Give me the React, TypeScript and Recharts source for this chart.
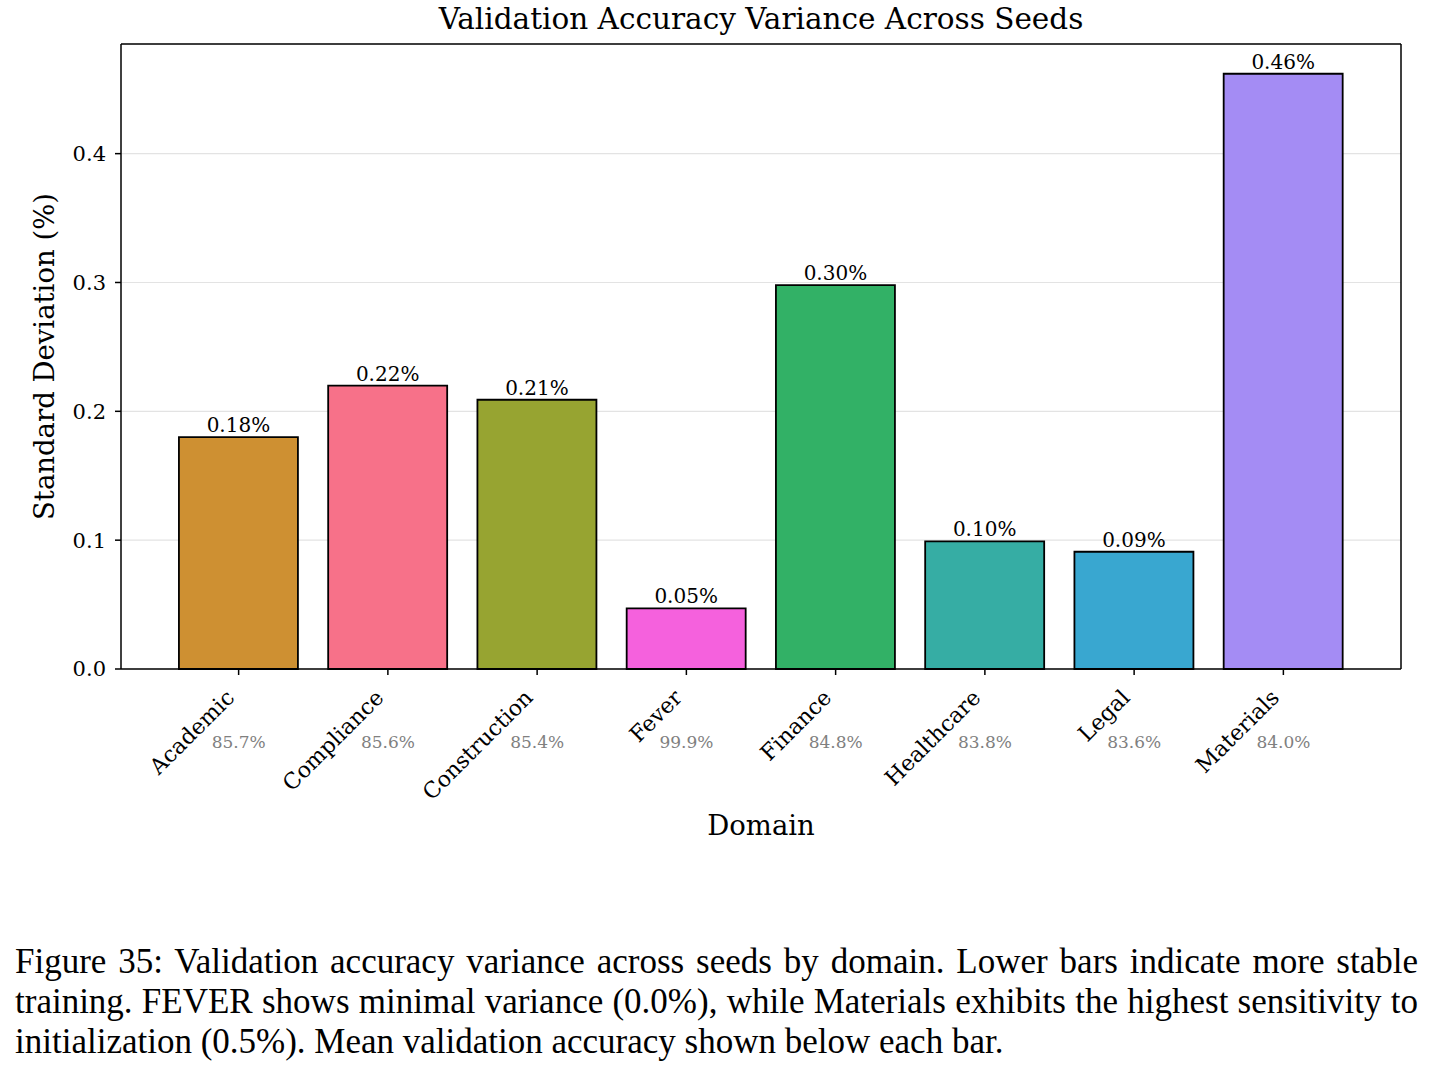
import { BarChart, Bar, XAxis, YAxis, CartesianGrid, Cell, LabelList } from 'recharts'

// values
const domains = ['Academic', 'Compliance', 'Construction', 'Fever', 'Finance', 'Healthcare', 'Legal', 'Materials']
const stdDev = [0.180, 0.220, 0.209, 0.047, 0.298, 0.099, 0.091, 0.462]
const meanAcc = [85.7, 85.6, 85.4, 99.9, 84.8, 83.8, 83.6, 84.0]
const barColors = ['#ce9032', '#f77189', '#97a431', '#f561dd', '#32b166', '#36ada4', '#39a7d0', '#a48cf4']
const yTicks = [0, 0.1, 0.2, 0.3, 0.4]

const captionLines = [
  'Figure 35: Validation accuracy variance across seeds by domain. Lower bars indicate more stable',
  'training. FEVER shows minimal variance (0.0%), while Materials exhibits the highest sensitivity to',
  'initialization (0.5%). Mean validation accuracy shown below each bar.',
]

const data = domains.map((d, i) => ({ domain: d, std: stdDev[i], acc: meanAcc[i] }))
const yMax = Math.max(...stdDev) * 1.05

const FONT = '"DejaVu Serif", serif'

const DomainTick = (props: any) => {
  const { x, y, payload, index } = props
  return (
    <g transform={`translate(${x},${y})`}>
      <g transform="translate(-3,22) rotate(-45)">
        <text x={0} y={0} textAnchor="end" fontSize={22} fontFamily={FONT} fill="#000">
          {payload.value}
        </text>
      </g>
      <text x={0} y={71} textAnchor="middle" fontSize={17} fontFamily={FONT} fill="#808080">
        {meanAcc[index].toFixed(1)}%
      </text>
    </g>
  )
}

export default function App() {
  return (
    <div
      style={{
        position: 'absolute',
        left: 0,
        top: 0,
        width: 1434,
        height: 1074,
        background: '#fff',
        fontFamily: FONT,
      }}
    >
      <div
        style={{
          position: 'absolute',
          left: 121,
          top: 2,
          width: 1280,
          textAlign: 'center',
          fontSize: 29.5,
          lineHeight: '34px',
          color: '#000',
        }}
      >
        Validation Accuracy Variance Across Seeds
      </div>
      <div style={{ position: 'absolute', left: 0, top: 0 }}>
        <BarChart
          width={1434}
          height={880}
          data={data}
          margin={{ top: 43, right: 32, left: 0, bottom: 31 }}
          barCategoryGap="10%"
        >
          <CartesianGrid vertical={false} stroke="#e3e3e3" strokeWidth={1.2} />
          <XAxis
            dataKey="domain"
            height={180}
            padding={{ left: 43, right: 43 }}
            axisLine={{ stroke: '#000', strokeWidth: 1.5 }}
            tickLine={{ stroke: '#000', strokeWidth: 1.5 }}
            tickSize={6}
            tickMargin={2}
            interval={0}
            tick={<DomainTick />}
            label={({ viewBox }: any) => (
              <text
                x={viewBox.x + viewBox.width / 2}
                y={viewBox.y + 166}
                textAnchor="middle"
                fontSize={27.5}
                fontFamily={FONT}
                fill="#000"
              >
                Domain
              </text>
            )}
          />
          <XAxis
            xAxisId="top"
            orientation="top"
            dataKey="domain"
            height={1}
            padding={{ left: 43, right: 43 }}
            tick={false}
            tickLine={false}
            axisLine={{ stroke: '#000', strokeWidth: 1.5 }}
          />
          <YAxis
            width={121}
            domain={[0, yMax]}
            ticks={yTicks}
            tickFormatter={(v: number) => v.toFixed(1)}
            axisLine={{ stroke: '#000', strokeWidth: 1.5 }}
            tickLine={{ stroke: '#000', strokeWidth: 1.5 }}
            tickSize={6}
            tickMargin={9}
            tick={{ fontSize: 21, fontFamily: FONT, fill: '#000' }}
            label={({ viewBox }: any) => (
              <text
                x={44}
                y={viewBox.y + viewBox.height / 2}
                transform={`rotate(-90, 44, ${viewBox.y + viewBox.height / 2})`}
                textAnchor="middle"
                dominantBaseline="central"
                fontSize={27.5}
                fontFamily={FONT}
                fill="#000"
              >
                Standard Deviation (%)
              </text>
            )}
          />
          <YAxis
            yAxisId="right"
            orientation="right"
            width={1}
            domain={[0, yMax]}
            tick={false}
            tickLine={false}
            axisLine={{ stroke: '#000', strokeWidth: 1.5 }}
          />
          <Bar dataKey="std" stroke="#000" strokeWidth={1.8} isAnimationActive={false}>
            {data.map((d, i) => (
              <Cell key={d.domain} fill={barColors[i]} />
            ))}
            <LabelList
              dataKey="std"
              position="top"
              offset={5}
              formatter={(v: any) => `${Number(v).toFixed(2)}%`}
              style={{ fontSize: 20, fontFamily: FONT, fill: '#000' }}
            />
          </Bar>
        </BarChart>
      </div>
      <div
        style={{
          position: 'absolute',
          left: 15,
          top: 942,
          width: 1403,
          fontFamily: '"Liberation Serif", serif',
          fontSize: 35,
          lineHeight: '40px',
          color: '#000',
        }}
      >
        {captionLines.map((line, i) => (
          <div
            key={i}
            style={{
              textAlign: 'justify',
              textAlignLast: i < captionLines.length - 1 ? 'justify' : 'left',
              whiteSpace: 'nowrap',
            }}
          >
            {line}
          </div>
        ))}
      </div>
    </div>
  )
}
